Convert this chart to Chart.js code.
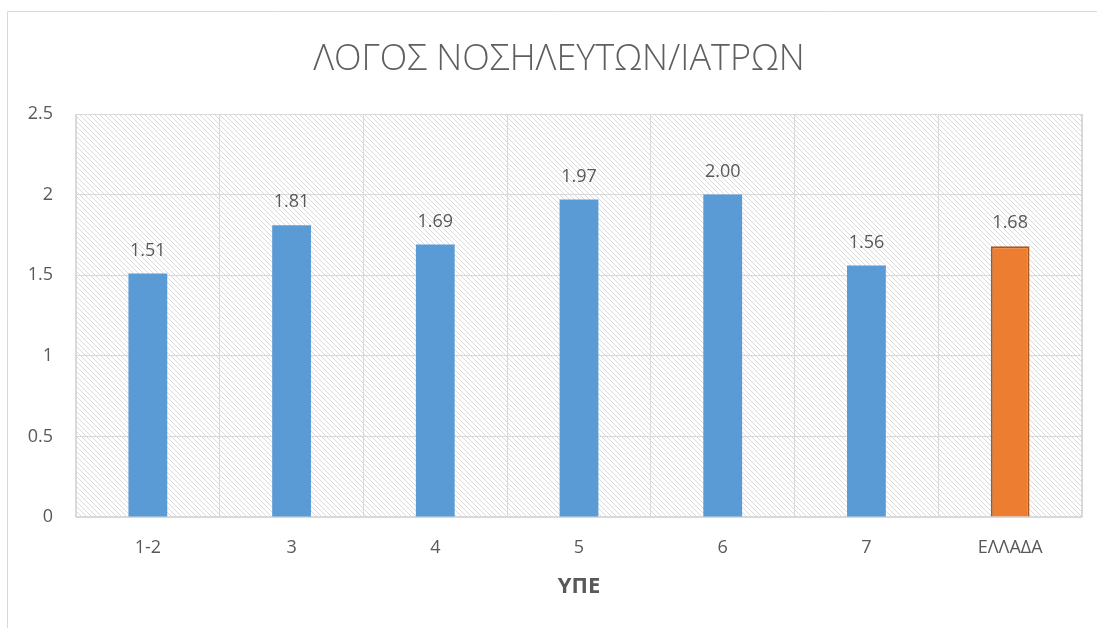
<!DOCTYPE html>
<html>
<head>
<meta charset="utf-8">
<script src="https://cdn.jsdelivr.net/npm/chart.js@4"></script>
<style>
  html, body { margin: 0; padding: 0; background: #fff; }
  #wrap { width: 1097px; height: 628px; position: relative; }
</style>
</head>
<body>
<div id="wrap"><canvas id="chart"></canvas></div>
<script>
// chart data
const chartTitle = "ΛΟΓΟΣ ΝΟΣΗΛΕΥΤΩΝ/ΙΑΤΡΩΝ";
const categories = ["1-2", "3", "4", "5", "6", "7", "ΕΛΛΑΔΑ"];
const ratios = [1.51, 1.81, 1.69, 1.97, 2.00, 1.56, 1.68];
const yTicks = [0, 0.5, 1, 1.5, 2, 2.5];

const blue = "#5B9BD5";
const orange = "#ED7D31";
const textGray = "#595959";
const gridGray = "#d9d9d9";

// hatched fill for the plot area (downward diagonal)
function makeHatch() {
  const c = document.createElement("canvas");
  c.width = 5;
  c.height = 5;
  const g = c.getContext("2d");
  g.fillStyle = "#fff";
  g.fillRect(0, 0, 5, 5);
  g.fillStyle = "#dadada";
  for (let i = 0; i < 5; i++) g.fillRect(i, i, 1, 1);
  return g.createPattern(c, "repeat");
}

const backgroundPlugin = {
  id: "bg",
  beforeDraw(chart) {
    const { ctx, chartArea: a } = chart;
    ctx.save();
    ctx.fillStyle = "#fff";
    ctx.fillRect(0, 0, chart.width, chart.height);
    // outer frame (left + top edges visible)
    ctx.strokeStyle = gridGray;
    ctx.lineWidth = 1;
    ctx.beginPath();
    ctx.moveTo(7.5, chart.height);
    ctx.lineTo(7.5, 11.5);
    ctx.lineTo(chart.width, 11.5);
    ctx.stroke();
    ctx.fillStyle = makeHatch();
    ctx.fillRect(a.left, a.top, a.right - a.left, a.bottom - a.top);
    ctx.restore();
  },
  afterDraw(chart) {
    const { ctx, chartArea: a } = chart;
    ctx.save();
    ctx.strokeStyle = gridGray;
    ctx.lineWidth = 1;
    ctx.strokeRect(a.left + 0.5, a.top + 0.5, a.right - a.left - 1, a.bottom - a.top);
    // title, centred a little right of the canvas middle like the original
    ctx.font = "300 36px 'Open Sans', sans-serif";
    ctx.fillStyle = "#5f5f5f";
    ctx.textAlign = "center";
    ctx.textBaseline = "middle";
    ctx.fillText(chartTitle, 559, 60);
    ctx.restore();
  }
};

// value labels above bars
const valueLabels = {
  id: "valueLabels",
  afterDatasetsDraw(chart) {
    const { ctx } = chart;
    const meta = chart.getDatasetMeta(0);
    ctx.save();
    ctx.font = "18px 'Open Sans', sans-serif";
    ctx.fillStyle = textGray;
    ctx.textAlign = "center";
    ctx.textBaseline = "bottom";
    meta.data.forEach((bar, i) => {
      ctx.fillText(ratios[i].toFixed(2), bar.x, bar.y - 14);
    });
    ctx.restore();
  }
};

new Chart(document.getElementById("chart"), {
  type: "bar",
  data: {
    labels: categories,
    datasets: [{
      data: ratios,
      backgroundColor: (c) => c.dataIndex === categories.length - 1 ? orange : blue,
      borderColor: (c) => c.dataIndex === categories.length - 1 ? "#A9571E" : blue,
      borderWidth: (c) => c.dataIndex === categories.length - 1 ? 2 : 0,
      barPercentage: 0.27,
      categoryPercentage: 1
    }]
  },
  options: {
    responsive: true,
    maintainAspectRatio: false,
    animation: false,
    layout: { padding: { left: 0, right: 15, top: 114, bottom: 0 } },
    plugins: {
      legend: { display: false },
      tooltip: { enabled: false },
      title: { display: false }
    },
    scales: {
      x: {
        grid: { color: gridGray, drawTicks: false, offset: true },
        border: { color: gridGray, width: 1.5 },
        ticks: { color: textGray, font: { family: "'Open Sans', sans-serif", size: 18 }, padding: 20 },
        title: {
          display: true,
          text: "ΥΠΕ",
          color: textGray,
          font: { family: "'Open Sans', sans-serif", size: 22, weight: "bold" },
          padding: { top: 0, bottom: 28 }
        },
        afterFit(s) { s.height = 111; }
      },
      y: {
        min: 0,
        max: 2.5,
        grid: { color: gridGray, drawTicks: false },
        border: { display: false },
        afterBuildTicks(s) { s.ticks = yTicks.map(v => ({ value: v })); },
        ticks: {
          color: textGray,
          font: { family: "'Open Sans', sans-serif", size: 18 },
          padding: 23,
          callback: (v) => String(v)
        },
        afterFit(s) { s.width = 76; }
      }
    }
  },
  plugins: [backgroundPlugin, valueLabels]
});
</script>
</body>
</html>
